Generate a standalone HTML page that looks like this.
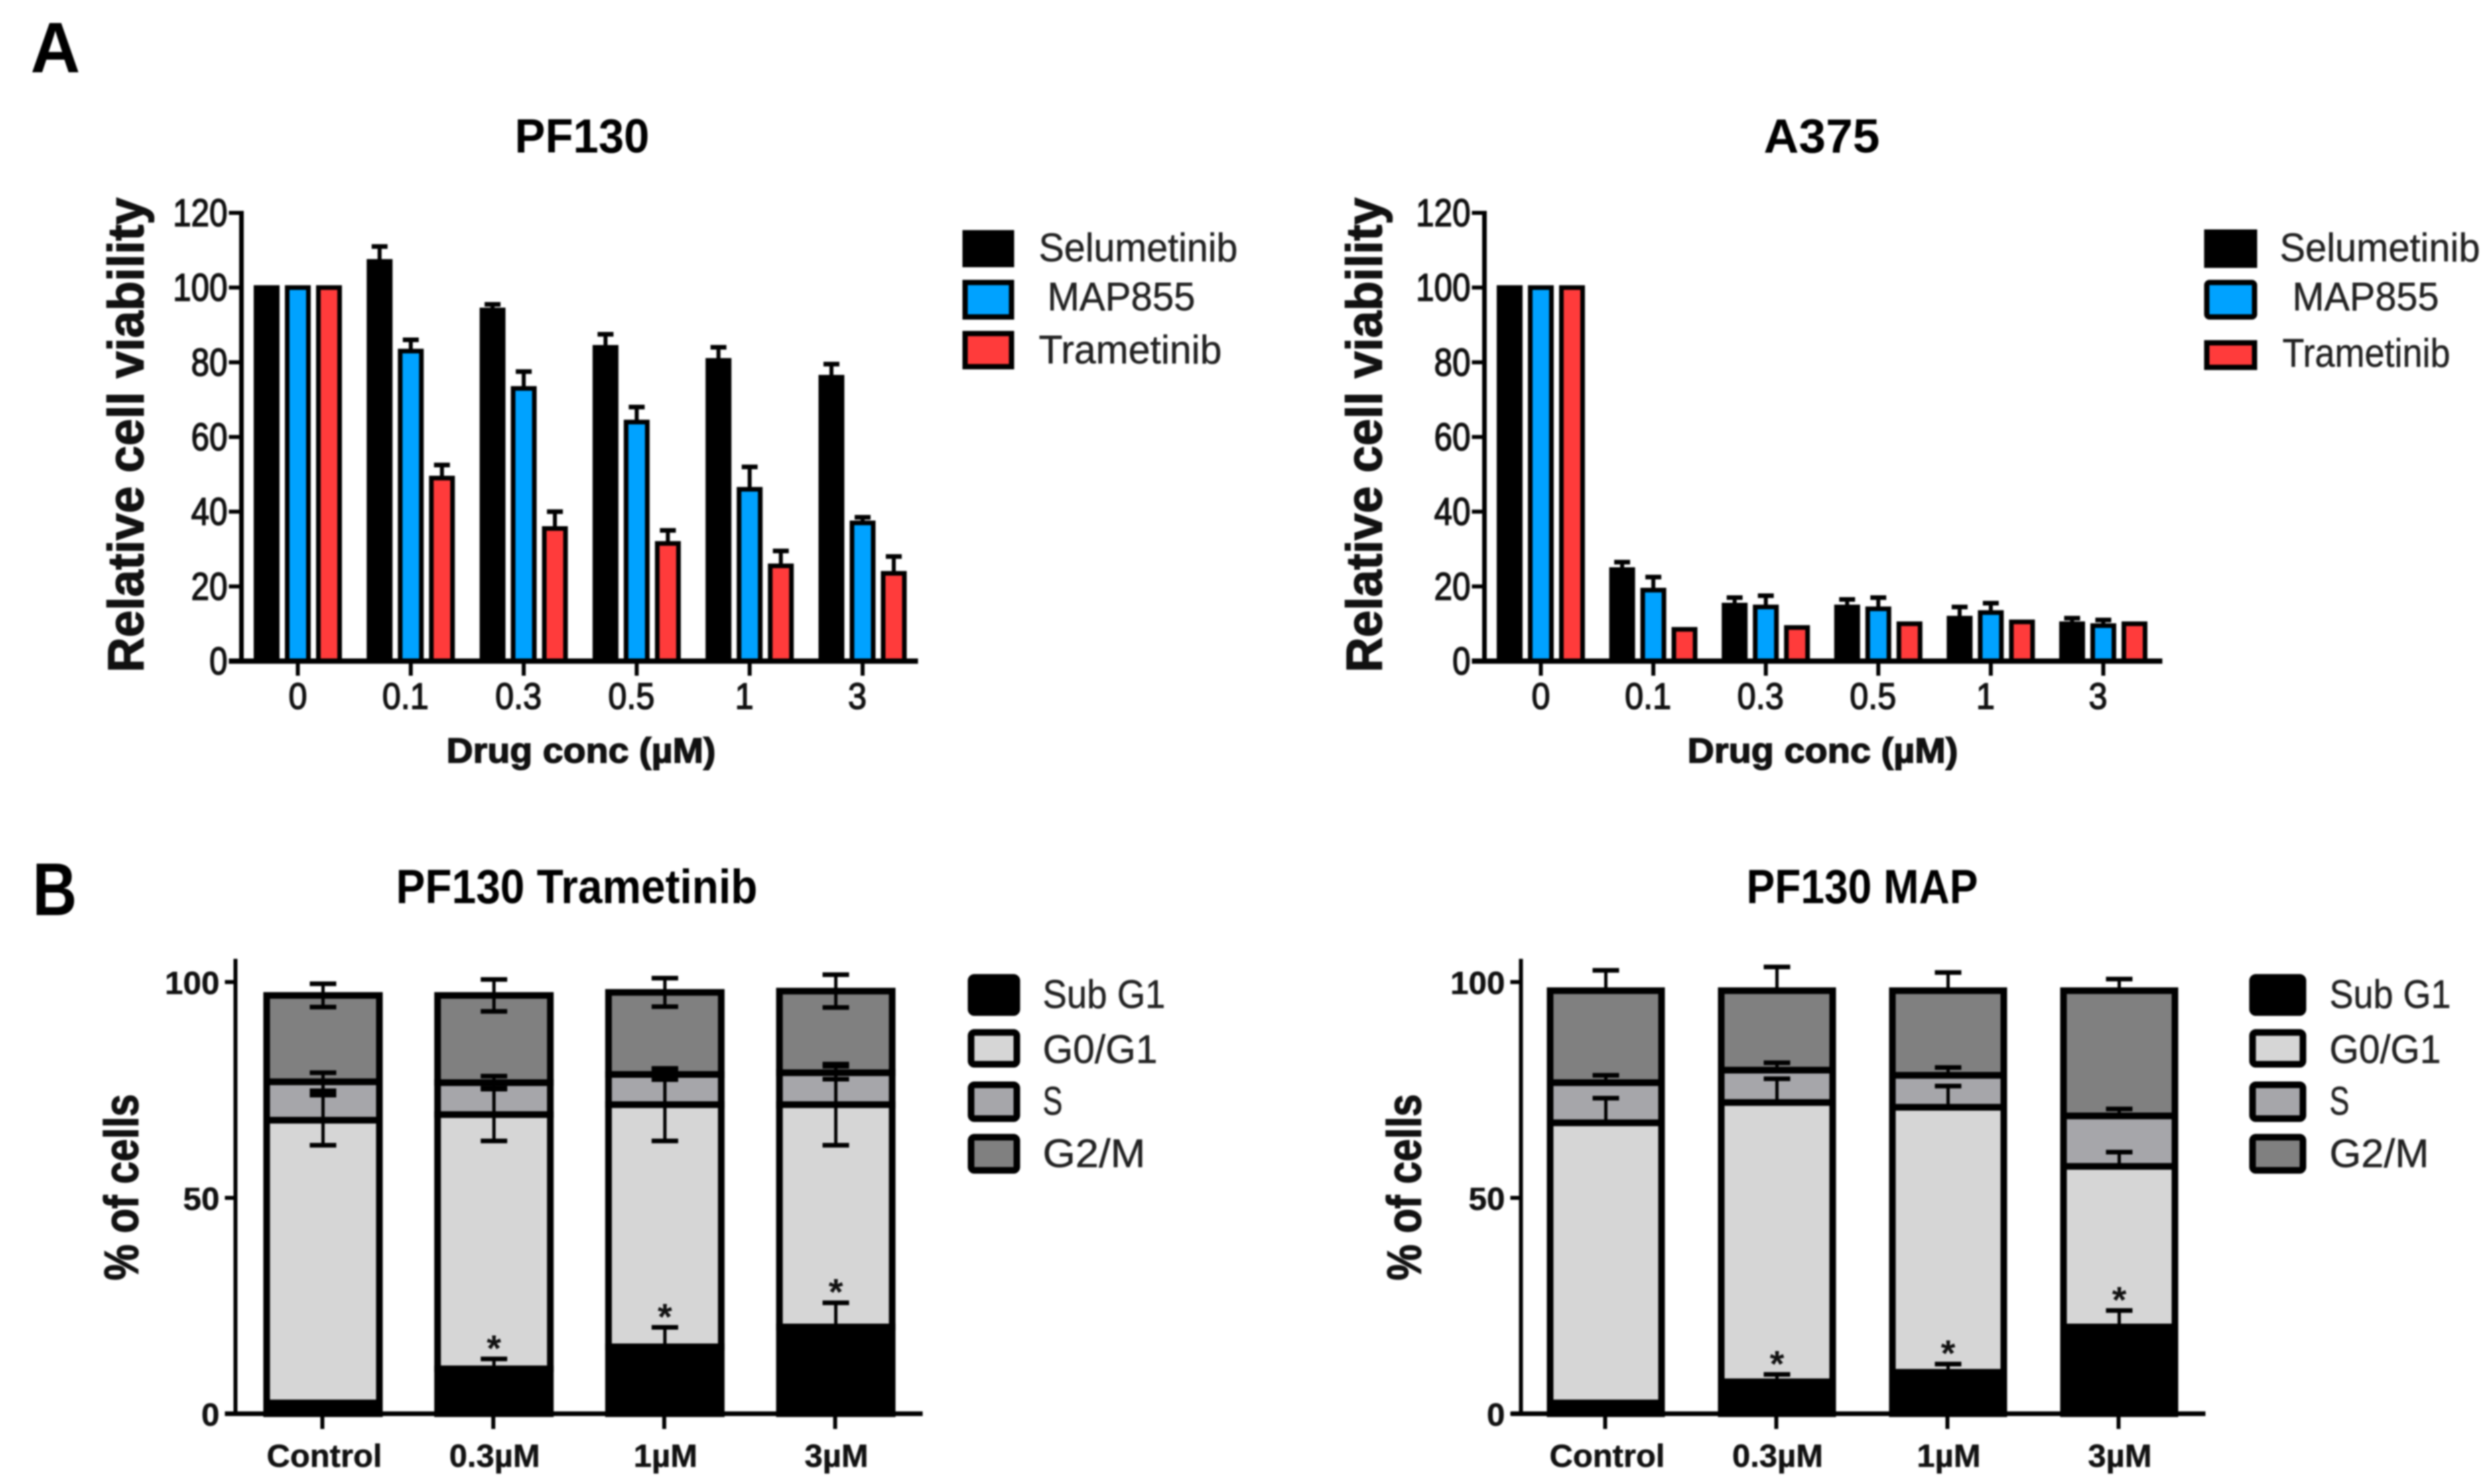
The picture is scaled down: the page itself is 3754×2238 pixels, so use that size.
<!DOCTYPE html>
<html lang="en">
<head>
<meta charset="utf-8">
<title>Drug response and cell cycle figure</title>
<style>
html,body{margin:0;padding:0;background:#fff;width:3754px;height:2238px;overflow:hidden}
svg{display:block;filter:blur(1.3px);font-family:"Liberation Sans",sans-serif}
.ttl{font-weight:700;font-size:72px;fill:#000}
.ax{font-weight:700;fill:#111;stroke:#111;stroke-width:1.5px}
.leg{font-size:60px;fill:#222;stroke:#222;stroke-width:.5px}
</style>
</head>
<body>
<svg id="fig" xmlns="http://www.w3.org/2000/svg" width="3754" height="2238" viewBox="0 0 3754 2238">
  <rect width="3754" height="2238" fill="#fff"/>
  <text x="46" y="109" font-weight="700" font-size="108" textLength="75" lengthAdjust="spacingAndGlyphs">A</text>
  <text x="49" y="1380" font-weight="700" font-size="112" textLength="67" lengthAdjust="spacingAndGlyphs">B</text>

  <text class="ttl" x="776" y="230" textLength="203" lengthAdjust="spacingAndGlyphs">PF130</text>
  <text class="ttl" x="2659" y="230" textLength="175" lengthAdjust="spacingAndGlyphs">A375</text>
  <text class="ttl" x="597" y="1362" textLength="545" lengthAdjust="spacingAndGlyphs">PF130 Trametinib</text>
  <text class="ttl" x="2633" y="1362" textLength="349" lengthAdjust="spacingAndGlyphs">PF130 MAP</text>

  <text class="ax" font-size="76" transform="translate(216,1014) rotate(-90)" textLength="716" lengthAdjust="spacingAndGlyphs">Relative cell viability</text>
  <text class="ax" font-size="76" transform="translate(2083,1014) rotate(-90)" textLength="716" lengthAdjust="spacingAndGlyphs">Relative cell viability</text>
  <text class="ax" font-size="53" x="673" y="1150" textLength="406" lengthAdjust="spacingAndGlyphs">Drug conc (µM)</text>
  <text class="ax" font-size="53" x="2544" y="1150" textLength="408" lengthAdjust="spacingAndGlyphs">Drug conc (µM)</text>
  <text class="ax" font-size="72" transform="translate(208,1931) rotate(-90)" textLength="281" lengthAdjust="spacingAndGlyphs">% of cells</text>
  <text class="ax" font-size="72" transform="translate(2142,1931) rotate(-90)" textLength="281" lengthAdjust="spacingAndGlyphs">% of cells</text>

  <g>
    <rect x="1455" y="351" width="70" height="48" fill="#000" stroke="#000" stroke-width="8"/>
    <rect x="1455" y="426" width="70" height="52" fill="#00a2ff" stroke="#000" stroke-width="8"/>
    <rect x="1455" y="503" width="70" height="50" fill="#ff3b3b" stroke="#000" stroke-width="8"/>
    <text class="leg" x="1566" y="394" textLength="300" lengthAdjust="spacingAndGlyphs">Selumetinib</text>
    <text class="leg" x="1579" y="468" textLength="223" lengthAdjust="spacingAndGlyphs">MAP855</text>
    <text class="leg" x="1566" y="548" textLength="276" lengthAdjust="spacingAndGlyphs">Trametinib</text>
  </g>
  <g>
    <rect x="3327" y="350" width="72" height="50" fill="#000" stroke="#000" stroke-width="8"/>
    <rect x="3327" y="426" width="72" height="52" rx="4" fill="#00a2ff" stroke="#000" stroke-width="8"/>
    <rect x="3327" y="517" width="72" height="37" fill="#ff3b3b" stroke="#000" stroke-width="8"/>
    <text class="leg" x="3437" y="394" textLength="302" lengthAdjust="spacingAndGlyphs">Selumetinib</text>
    <text class="leg" x="3456" y="468" textLength="221" lengthAdjust="spacingAndGlyphs">MAP855</text>
    <text class="leg" x="3441" y="553" textLength="253" lengthAdjust="spacingAndGlyphs">Trametinib</text>
  </g>
  <g>
    <rect x="1464" y="1474" width="69" height="53" rx="5" fill="#000" stroke="#000" stroke-width="10"/>
    <rect x="1464" y="1557" width="69" height="48" rx="5" fill="#d6d6d6" stroke="#000" stroke-width="10"/>
    <rect x="1464" y="1636" width="69" height="51" rx="5" fill="#a6a6aa" stroke="#000" stroke-width="10"/>
    <rect x="1464" y="1715" width="69" height="50" rx="5" fill="#808080" stroke="#000" stroke-width="10"/>
    <text class="leg" x="1572" y="1520" textLength="185" lengthAdjust="spacingAndGlyphs">Sub G1</text>
    <text class="leg" x="1572" y="1603" textLength="173" lengthAdjust="spacingAndGlyphs">G0/G1</text>
    <text class="leg" x="1572" y="1681" textLength="30" lengthAdjust="spacingAndGlyphs">S</text>
    <text class="leg" x="1572" y="1760" textLength="155" lengthAdjust="spacingAndGlyphs">G2/M</text>
  </g>
  <g>
    <rect x="3396" y="1474" width="76" height="53" rx="5" fill="#000" stroke="#000" stroke-width="10"/>
    <rect x="3396" y="1557" width="76" height="48" rx="5" fill="#d6d6d6" stroke="#000" stroke-width="10"/>
    <rect x="3396" y="1636" width="76" height="51" rx="5" fill="#a6a6aa" stroke="#000" stroke-width="10"/>
    <rect x="3396" y="1715" width="76" height="50" rx="5" fill="#808080" stroke="#000" stroke-width="10"/>
    <text class="leg" x="3512" y="1520" textLength="183" lengthAdjust="spacingAndGlyphs">Sub G1</text>
    <text class="leg" x="3512" y="1603" textLength="168" lengthAdjust="spacingAndGlyphs">G0/G1</text>
    <text class="leg" x="3512" y="1681" textLength="30" lengthAdjust="spacingAndGlyphs">S</text>
    <text class="leg" x="3512" y="1760" textLength="150" lengthAdjust="spacingAndGlyphs">G2/M</text>
  </g>
</svg>
<script>
// ---------- Panel A data ----------
const concCategories = ['0', '0.1', '0.3', '0.5', '1', '3'];
const viabilityTicks = [0, 20, 40, 60, 80, 100, 120];
const pf130Selumetinib = [100, 107, 94, 84, 80.5, 76];
const pf130Map855 = [100, 83, 73, 64, 46, 37];
const pf130Trametinib = [100, 49, 35.5, 31.5, 25.5, 23.5];
const pf130SelumetinibErr = [0, 4, 1.5, 3.5, 3.5, 3.5];
const pf130Map855Err = [0, 3, 4.5, 4, 6, 1.5];
const pf130TrametinibErr = [0, 3.5, 4.5, 3.5, 4, 4.5];
const a375Selumetinib = [100, 24.5, 15, 14.5, 11.5, 10];
const a375Map855 = [100, 19, 14.5, 14, 13, 9.5];
const a375Trametinib = [100, 8.5, 9, 10, 10.5, 10];
const a375SelumetinibErr = [0, 2, 2, 2, 3, 1.5];
const a375Map855Err = [0, 3.5, 3, 3, 2.5, 1.5];
const a375TrametinibErr = [0, 0, 0, 0, 0, 0];

// ---------- Panel B data ----------
const phaseCategories = ['Control', '0.3µM', '1µM', '3µM'];
const percentTicks = [0, 50, 100];
const tramSubG1 = [2.5, 10.4, 15.5, 20.1];
const tramG0G1 = [65.5, 58.9, 56.1, 51.5];
const tramS = [8.9, 7.4, 7, 7.4];
const tramG2M = [20, 20.2, 19, 18.9];
const tramSubG1Err = [0, 2.3, 4.5, 5.6];
const tramG0G1Err = [5.8, 6.1, 8.4, 9.4];
const tramSErr = [2.1, 1.5, 1.2, 1.5];
const tramG2MErr = [2.7, 3.7, 3.3, 3.8];
const mapSubG1 = [2.5, 7.4, 9.6, 20.1];
const mapG0G1 = [64.9, 64.7, 61.4, 37.2];
const mapS = [9.3, 7.5, 7.4, 11.7];
const mapG2M = [21.3, 18.4, 19.6, 29];
const mapSubG1Err = [0, 1.7, 1.9, 3.8];
const mapG0G1Err = [5.7, 5.5, 4.9, 3.3];
const mapSErr = [1.7, 1.7, 1.8, 1.6];
const mapG2MErr = [4.7, 5.5, 4.2, 2.7];

const NS = 'http://www.w3.org/2000/svg';
const svg = document.getElementById('fig');

function node(parent, tag, name, attrs) {
  const el = document.createElementNS(NS, tag);
  
  
  for (const k in attrs) el.setAttribute(k, attrs[k]);
  parent.appendChild(el);
  return el;
}
function line(parent, name, x1, y1, x2, y2, w) {
  return node(parent, 'line', name, {x1: x1, y1: y1, x2: x2, y2: y2, stroke: '#000', 'stroke-width': w});
}
function label(parent, name, txt, x, y, size, sx, anchor, bold) {
  const t = node(parent, 'text', name, {
    transform: 'translate(' + x + ',' + y + ') scale(' + sx + ',1)',
    'font-size': size, 'text-anchor': anchor, fill: '#111',
    'font-weight': bold ? 700 : 400, stroke: '#111', 'stroke-width': bold ? 0.5 : 1.6
  });
  t.textContent = txt;
  return t;
}

function groupedChart(id, cfg, series) {
  const g = node(svg, 'g', id + '-chart', {});
  const y = v => cfg.y0 - v * (cfg.y0 - cfg.y120) / 120;
  const xc = i => cfg.first + i * cfg.step;
  series.forEach((s, k) => {
    s.values.forEach((v, i) => {
      const cx = xc(i) + (k - 1) * 47;
      if (s.err[i] > 0) {
        line(g, id + '-error-stem', cx, y(v), cx, y(v + s.err[i]), 6);
        line(g, id + '-error-cap', cx - 12, y(v + s.err[i]), cx + 12, y(v + s.err[i]), 7);
      }
      node(g, 'rect', id + '-bar-' + s.key + '-' + concCategories[i], {
        x: cx - 16, y: y(v), width: 32, height: cfg.y0 - y(v),
        fill: s.color, stroke: '#000', 'stroke-width': 7
      });
    });
  });
  line(g, id + '-y-axis', cfg.axisX, y(120) - 3, cfg.axisX, cfg.y0, 7);
  line(g, id + '-x-axis', cfg.xStart, cfg.y0, cfg.xEnd, cfg.y0, 8);
  viabilityTicks.forEach(t => {
    line(g, id + '-y-tick', cfg.axisX - 19, y(t), cfg.axisX, y(t), 6);
    label(g, id + '-y-tick-label', String(t), cfg.axisX - 21, y(t) + 20, 58, 0.85, 'end', false);
  });
  concCategories.forEach((c, i) => {
    line(g, id + '-x-tick', xc(i), cfg.y0, xc(i), cfg.y0 + 22, 6);
    label(g, id + '-x-tick-label', c, xc(i) + (i ? cfg.labelDx : 0), cfg.y0 + 72, 56, 0.9, 'middle', false);
  });
}

function stackedChart(id, cfg, segs, hasLower) {
  const g = node(svg, 'g', id + '-chart', {});
  const y = v => cfg.y0 - v * (cfg.y0 - cfg.y100) / 100;
  const xc = i => cfg.first + i * cfg.step;
  const half = cfg.barWidth / 2 - 5;
  phaseCategories.forEach((c, i) => {
    let base = 0;
    const tops = [];
    segs.forEach(s => {
      const top = base + s.values[i];
      tops.push(top);
      node(g, 'rect', id + '-segment-' + s.key + '-' + c, {
        x: xc(i) - half, y: y(top), width: half * 2, height: y(base) - y(top),
        fill: s.color, stroke: '#000', 'stroke-width': 10
      });
      base = top;
    });
    segs.forEach((s, k) => {
      const e = s.err[i];
      if (e <= 0) return;
      const t = tops[k];
      const low = hasLower && k > 0 ? t - e : t;
      line(g, id + '-error-stem', xc(i), y(low), xc(i), y(t + e), 5);
      line(g, id + '-error-cap', xc(i) - 20, y(t + e), xc(i) + 20, y(t + e), 7);
      if (low !== t) line(g, id + '-error-cap-lower', xc(i) - 20, y(low), xc(i) + 20, y(low), 7);
    });
    if (segs[0].err[i] > 0) {
      const st = tops[0] + segs[0].err[i] + 4.3;
      const star = node(g, 'text', id + '-significance-star', {
        x: xc(i), y: y(st) + 31, 'font-size': 56, 'font-weight': 700, 'text-anchor': 'middle', fill: '#111'
      });
      star.textContent = '*';
    }
  });
  line(g, id + '-y-axis', cfg.axisX, cfg.axisTop, cfg.axisX, cfg.y0, 6);
  line(g, id + '-x-axis', cfg.xStart, cfg.y0, cfg.xEnd, cfg.y0, 7);
  percentTicks.forEach(t => {
    line(g, id + '-y-tick', cfg.axisX - 16, y(t), cfg.axisX, y(t), 6);
    label(g, id + '-y-tick-label', String(t), cfg.axisX - 24, y(t) + 18, 48, 1.03, 'end', true);
  });
  phaseCategories.forEach((c, i) => {
    line(g, id + '-x-tick', xc(i) - 1, cfg.y0, xc(i) - 1, cfg.y0 + 23, 6);
    label(g, id + '-x-tick-label', c, xc(i) + (i ? 1 : 2), cfg.y0 + 80, 48, 1.02, 'middle', true);
  });
}

const BLUE = '#00a2ff', RED = '#ff3b3b', G0 = '#d6d6d6', GS = '#a6a6aa', G2 = '#808080';

groupedChart('pf130', {axisX: 364, xStart: 345, xEnd: 1384, y0: 997, y120: 321, first: 449, step: 170.3, labelDx: -8}, [
  {key: 'selumetinib', color: '#000', values: pf130Selumetinib, err: pf130SelumetinibErr},
  {key: 'map855', color: BLUE, values: pf130Map855, err: pf130Map855Err},
  {key: 'trametinib', color: RED, values: pf130Trametinib, err: pf130TrametinibErr}
]);
groupedChart('a375', {axisX: 2238, xStart: 2219, xEnd: 3260, y0: 997, y120: 321, first: 2323, step: 169.6, labelDx: -8}, [
  {key: 'selumetinib', color: '#000', values: a375Selumetinib, err: a375SelumetinibErr},
  {key: 'map855', color: BLUE, values: a375Map855, err: a375Map855Err},
  {key: 'trametinib', color: RED, values: a375Trametinib, err: a375TrametinibErr}
]);
stackedChart('trametinib', {axisX: 355, axisTop: 1446, xStart: 339, xEnd: 1391, y0: 2132, y100: 1481, first: 487, step: 257.7, barWidth: 180}, [
  {key: 'sub-g1', color: '#000', values: tramSubG1, err: tramSubG1Err},
  {key: 'g0-g1', color: G0, values: tramG0G1, err: tramG0G1Err},
  {key: 's', color: GS, values: tramS, err: tramSErr},
  {key: 'g2-m', color: G2, values: tramG2M, err: tramG2MErr}
], true);
stackedChart('map', {axisX: 2293, axisTop: 1446, xStart: 2278, xEnd: 3325, y0: 2132, y100: 1481, first: 2421, step: 258, barWidth: 178}, [
  {key: 'sub-g1', color: '#000', values: mapSubG1, err: mapSubG1Err},
  {key: 'g0-g1', color: G0, values: mapG0G1, err: mapG0G1Err},
  {key: 's', color: GS, values: mapS, err: mapSErr},
  {key: 'g2-m', color: G2, values: mapG2M, err: mapG2MErr}
], false);
</script>
</body>
</html>
